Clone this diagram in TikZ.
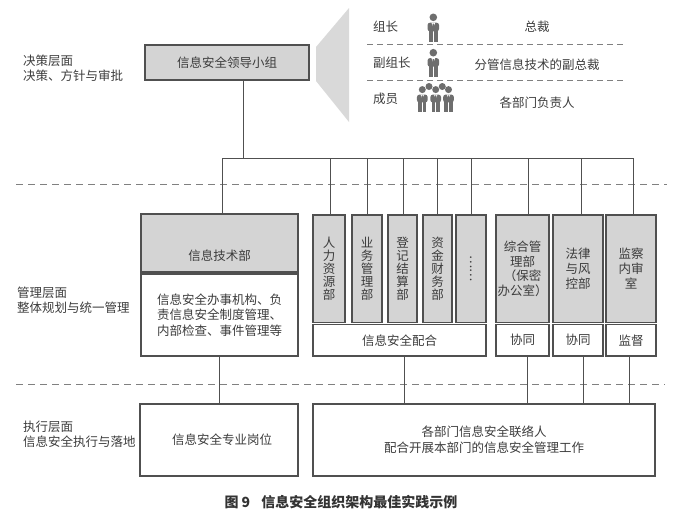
\documentclass[tikz,border=0pt]{standalone}
\usepackage{fontspec}
\setmainfont{Noto Sans CJK SC}
\XeTeXlinebreaklocale "zh"
\definecolor{textc}{HTML}{3C3C3C}
\definecolor{linec}{HTML}{505050}
\definecolor{boxg}{HTML}{D4D4D4}
\definecolor{trapc}{HTML}{D9D9D9}
\definecolor{dashc}{HTML}{808080}
\definecolor{iconc}{HTML}{6E6E6E}
\definecolor{capc}{HTML}{333333}
\tikzset{
  person/.pic={
    \fill[iconc] (0,0) circle (3.8);
    \fill[iconc, rounded corners=2.5pt] (-5.8,14) -- (-5.8,5.4) -- (5.8,5.4) -- (5.8,14) -- cycle;
    \fill[iconc] (-4.4,12) rectangle (-0.35,24.4);
    \fill[iconc] (0.35,12) rectangle (4.4,24.4);
    \fill[white] (-1.9,5.4) -- (1.9,5.4) -- (0,9.8) -- cycle;
    \fill[iconc] (-0.55,6.4) -- (0.55,6.4) -- (0.8,9.8) -- (0,11) -- (-0.8,9.8) -- cycle;
  }
}
\begin{document}
\begin{tikzpicture}[x=1pt,y=-1pt,
  txt/.style={inner sep=0pt, text=textc, font=\fontsize{12.5}{15}\selectfont, align=center},
  gbox/.style={draw=linec, line width=1.1pt, fill=boxg, inner sep=0pt, text=textc, font=\fontsize{12.5}{15}\selectfont, align=center},
  wbox/.style={draw=linec, line width=1.1pt, fill=white, inner sep=0pt, text=textc, font=\fontsize{12.5}{15}\selectfont, align=center},
  vbox/.style={gbox, minimum height=107.5pt, font=\fontsize{12.5}{13.2}\selectfont},
  conn/.style={draw=linec, line width=1pt},
  layer/.style={draw=dashc, line width=1pt, dash pattern=on 7pt off 5pt},
  sub/.style={draw=dashc, line width=0.9pt, dash pattern=on 6pt off 4pt},
]
\useasboundingbox (0,0) rectangle (700,523);

% layer separators
\coordinate (dA1) at (16,184); \coordinate (dA2) at (667,184);
\coordinate (dB1) at (16,384); \coordinate (dB2) at (665,384);
\draw[layer] (dA1) -- (dA2);
\draw[layer] (dB1) -- (dB2);

% left labels
\node[txt, anchor=west, align=left] (l1) at (23,68) {决策层面\\决策、方针与审批};
\node[txt, anchor=west, align=left] (l2) at (17,300.5) {管理层面\\整体规划与统一管理};
\node[txt, anchor=west, align=left] (l3) at (23,434) {执行层面\\信息安全执行与落地};

% leadership
\node[gbox, minimum width=164pt, minimum height=35pt] (lead) at (227,62.5) {信息安全领导小组};
\fill[trapc] (316,47) -- (349,8) -- (349,122) -- (316,81) -- cycle;

\node[txt, anchor=west] (zz) at (373,27) {组长};
\node[txt] (zc) at (537,27) {总裁};
\node[txt, anchor=west] (fzz) at (373,63) {副组长};
\node[txt] (fzc) at (537,65) {分管信息技术的副总裁};
\node[txt, anchor=west] (cy) at (373,98.5) {成员};
\node[txt] (bm) at (537,102.5) {各部门负责人};
\coordinate (s1a) at (367,44.5); \coordinate (s1b) at (625,44.5);
\coordinate (s2a) at (367,80); \coordinate (s2b) at (625,80);
\draw[sub] (s1a) -- (s1b);
\draw[sub] (s2a) -- (s2b);

\pic at (433.3,17.3) {person};
\pic at (433.3,52.7) {person};
\fill[iconc] (429,86.5) circle (3.5);
\fill[iconc] (442.3,86.5) circle (3.5);
\pic[scale=0.92] at (422.3,89.6) {person};
\pic[scale=0.92] at (435.7,89.6) {person};
\pic[scale=0.92] at (448.5,89.6) {person};

% bus
\coordinate (top) at (243,158);
\coordinate (busL) at (222,158);
\coordinate (busR) at (633,158);
\draw[conn] (lead.south -| top) -- (top);
\draw[conn] (busL) -- (busR);

% management boxes
\node[gbox, minimum width=157pt, minimum height=58pt] (itd) at (219.5,243) {};
\node[txt] (itdt) at (219.5,256) {信息技术部};
\node[wbox, minimum width=157pt, minimum height=82pt, font=\fontsize{12.5}{15.5}\selectfont] (itw) at (219.5,315) {信息安全办事机构、负\\责信息安全制度管理、\\内部检查、事件管理等};
\draw[conn] (busL) -- (busL |- itd.north);

\node[vbox, minimum width=32pt] (hr) at (329,268.75) {人\\力\\资\\源\\部};
\node[vbox, minimum width=30pt] (yw) at (367,268.75) {业\\务\\管\\理\\部};
\node[vbox, minimum width=29pt] (dj) at (402.5,268.75) {登\\记\\结\\算\\部};
\node[vbox, minimum width=29pt] (zj) at (437.5,268.75) {资\\金\\财\\务\\部};
\node[vbox, minimum width=30pt] (dots) at (471,268.75) {};
\node[txt, rotate=-90] (dotst) at (471,268.5) {……};
\node[vbox, minimum width=53pt, font=\fontsize{12.5}{14.5}\selectfont] (zh) at (522.5,268.75) {综合管\\理部\\（保密\\办公室）};
\node[vbox, minimum width=50pt, font=\fontsize{12.5}{15}\selectfont] (fl) at (578,268.75) {法律\\与风\\控部};
\node[vbox, minimum width=50pt, font=\fontsize{12.5}{15}\selectfont] (jc) at (631,268.75) {监察\\内审\\室};

\foreach \n/\x in {hr/330, yw/367, dj/403, zj/437, dots/471, zh/528, fl/581, jc/633} {
  \coordinate (b\n) at (\x,158);
  \draw[conn] (b\n) -- (b\n |- \n.north);
}

\node[wbox, minimum width=173pt, minimum height=31.5pt] (pei) at (399.5,340.25) {信息安全配合};
\node[wbox, minimum width=53pt, minimum height=31.5pt] (xt1) at (522.5,340.25) {协同};
\node[wbox, minimum width=50pt, minimum height=31.5pt] (xt2) at (578,340.25) {协同};
\node[wbox, minimum width=50pt, minimum height=31.5pt] (jd) at (631,340.25) {监督};

% execution boxes
\node[wbox, minimum width=158pt, minimum height=72pt] (post) at (219,440) {\hspace{6pt}信息安全专业岗位};
\node[wbox, minimum width=342pt, minimum height=72pt, font=\fontsize{12.5}{16}\selectfont] (liais) at (484,440) {各部门信息安全联络人\\配合开展本部门的信息安全管理工作};

\draw[conn] (itw.south -| post.north) -- (post.north);
\draw[conn] ([xshift=4.5pt]pei.south) -- ([xshift=4.5pt]pei.south |- liais.north);
\draw[conn] ([xshift=4.5pt]xt1.south) -- ([xshift=4.5pt]xt1.south |- liais.north);
\draw[conn] ([xshift=5pt]xt2.south) -- ([xshift=5pt]xt2.south |- liais.north);
\draw[conn] ([xshift=-2pt]jd.south) -- ([xshift=-2pt]jd.south |- liais.north);

% caption
\node[inner sep=0pt, text=capc, font=\fontsize{14}{16}\selectfont\bfseries] (cap) at (341,502) {图 9\hspace{0.8em}信息安全组织架构最佳实践示例};
\end{tikzpicture}
\end{document}
